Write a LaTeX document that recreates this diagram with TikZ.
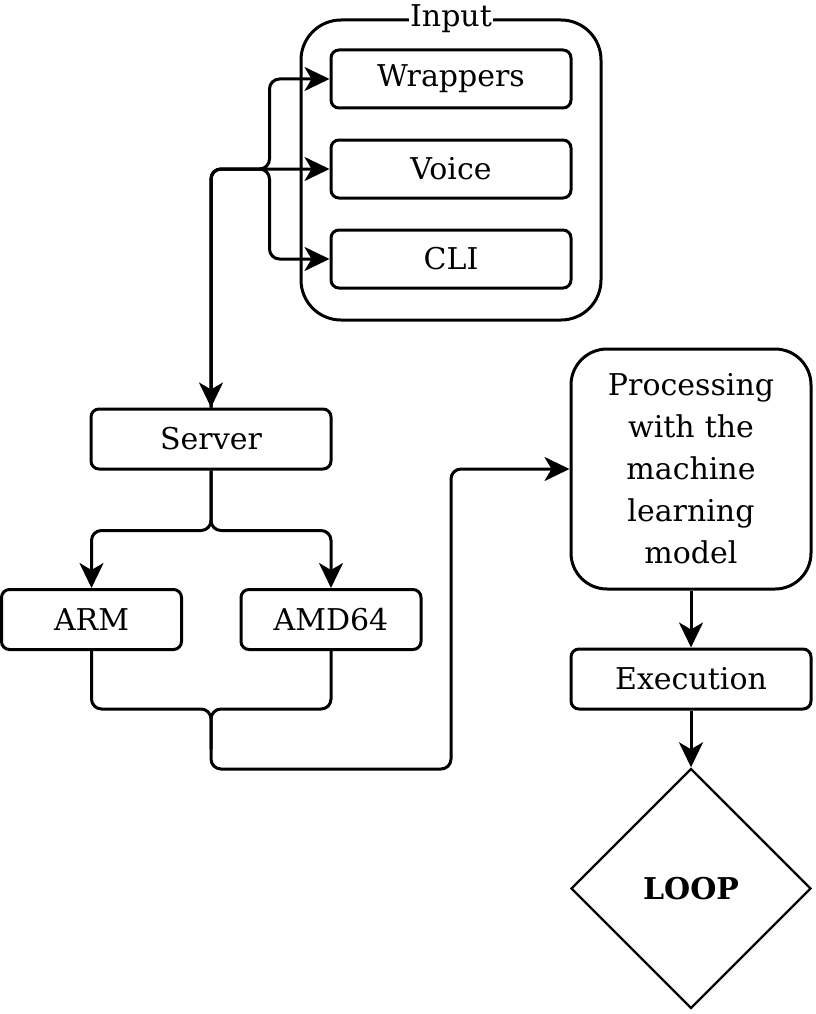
\documentclass[tikz,border=0pt]{standalone}
\usepackage{fontspec}
\setmainfont{DejaVu Serif}
\usepackage{tikz}
\usetikzlibrary{
  shapes.geometric
  , calc
  , arrows.meta
}

\begin{document}
\begin{tikzpicture}[x=1pt, y=-1pt]
      \tikzstyle{box template}=[draw, line width=3pt, rounded corners=8pt, minimum width=240, minimum height=60, inner sep=0pt, font=\fontsize{30}{42}\selectfont]
      \tikzstyle{flow}=[line width=3pt, rounded corners=10pt, -{Stealth[length=25pt, width=24pt, inset=7pt]}]

      \useasboundingbox (0, 0) rectangle (816, 1014);

      % input group
      \node [box template, rounded corners=40pt, minimum width=300, minimum height=300] (Inputs) at (451, 170){};
      \node [fill=white, inner sep=1pt, font=\fontsize{30}{36}\selectfont] (InputTitle) at (Inputs.north){Input};
      \node [box template, minimum height=58] (Wrappers) at (451, 79){Wrappers};
      \node [box template, minimum height=58] (Voice) at (451, 169){Voice};
      \node [box template, minimum height=58] (CLI) at (451, 259){CLI};

      \node [box template] (Server) at (211, 439){Server};
      \node [box template, minimum width=180] (ARM) at (91.5, 619.5){ARM};
      \node [box template, minimum width=180] (AMD) at (331, 619.5){AMD64};

      \node [box template, rounded corners=36pt, minimum height=240, text width=230, align=center] (Proc) at (691, 469){Processing\\with the\\machine\\learning\\model};
      \node [box template] (Exec) at (691, 679){Execution};
      \node [diamond, draw, line width=2.4pt, minimum width=240, minimum height=240, aspect=1, inner sep=0pt, font=\bfseries\fontsize{30}{36}\selectfont] (Loop) at (691, 888.5){LOOP};

      \coordinate (fork) at ($(Voice.west)+(-60, 0)$);
      \coordinate (merge) at (211, 709);
      \coordinate (low) at (451, 769);

      \draw [flow, {Stealth[length=25pt, width=24pt, inset=7pt]}-{Stealth[length=25pt, width=24pt, inset=7pt]}] (Server.north) |- (Voice.west);
      \draw [flow] (Server.north) |- (fork) |- (Wrappers.west);
      \draw [flow] (Server.north) |- (fork) |- (CLI.west);

      \draw [flow] (Server.south) -- ++(0, 60) -| (ARM.north);
      \draw [flow] (Server.south) -- ++(0, 60) -| (AMD.north);

      \draw [flow, -] (AMD.south) |- (merge) -- ++(0, 40);
      \draw [flow] (ARM.south) |- (merge) |- (low) |- (Proc.west);

      \draw [flow] (Proc) -- (Exec);
      \draw [flow] (Exec) -- (Loop);

    \end{tikzpicture}
\end{document}
